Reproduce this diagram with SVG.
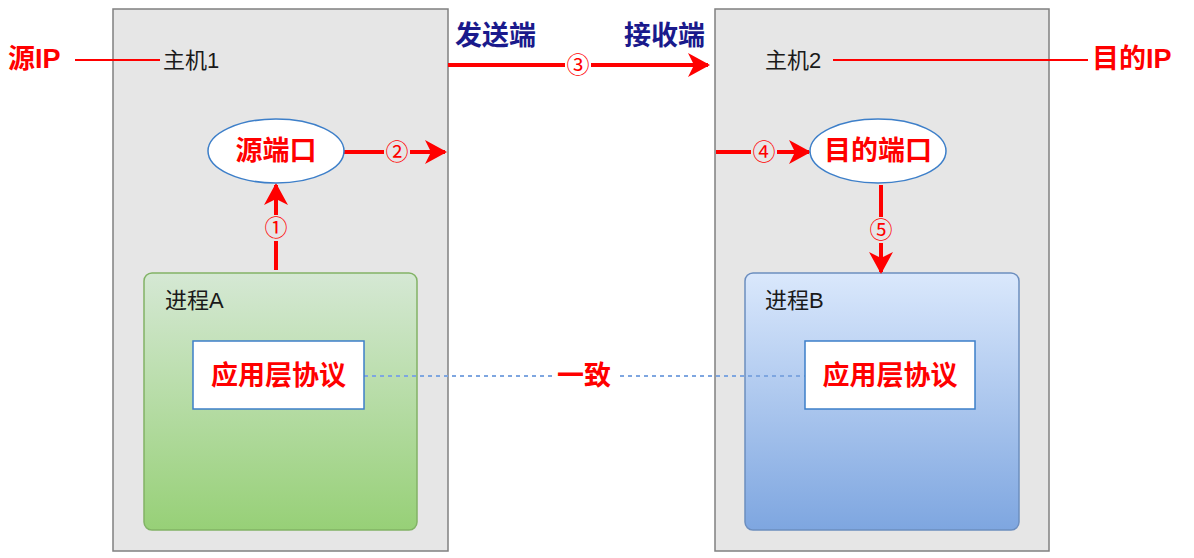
<svg xmlns="http://www.w3.org/2000/svg" width="1194" height="558" viewBox="0 0 1194 558">
<style>
.host{fill:#e6e6e6;stroke:#808080;stroke-width:1.5}
.t{font-family:"Liberation Sans","Noto Sans CJK SC",sans-serif}
.red{fill:#ff0000;font-weight:bold;font-size:27px}
.navy{fill:#1a1a8c;font-weight:bold;font-size:27px}
.blk{fill:#1a1a1a;font-size:22px}
.num{fill:#ff0000;font-size:23px;font-family:"Noto Sans CJK SC",sans-serif}
.arr{stroke:#ff0000;stroke-width:4;fill:none;marker-end:url(#ah)}
.ipl{stroke:#ff0000;stroke-width:2}
.app{fill:#ffffff;stroke:#3d7fc9;stroke-width:1.5}
.port{fill:#ffffff;stroke:#3d7fc9;stroke-width:1.5}
</style>
<defs>
<marker id="ah" viewBox="0 0 22 24" refX="20" refY="12" markerWidth="22" markerHeight="24" markerUnits="userSpaceOnUse" orient="auto">
<path d="M0,0 L22,12 L0,24 L6,12 z" fill="#ff0000"/>
</marker>
<linearGradient id="gG" x1="0" y1="0" x2="0" y2="1">
<stop offset="0" stop-color="#d5e8d4"/>
<stop offset="1" stop-color="#97d077"/>
</linearGradient>
<linearGradient id="gB" x1="0" y1="0" x2="0" y2="1">
<stop offset="0" stop-color="#dae8fc"/>
<stop offset="1" stop-color="#7ea6e0"/>
</linearGradient>
</defs>
<g id="host1">
<rect class="host" x="113" y="9" width="335" height="542"/>
<text class="t blk" x="163" y="68">主机1</text>
</g>
<g id="host2">
<rect class="host" x="715" y="9" width="334" height="542"/>
<text class="t blk" x="765" y="68">主机2</text>
</g>
<g id="processA">
<rect x="144" y="273" width="273" height="257" rx="8" fill="url(#gG)" stroke="#82b366" stroke-width="1.5"/>
<text class="t blk" x="165" y="308">进程A</text>
</g>
<g id="processB">
<rect x="745" y="273" width="274" height="257" rx="8" fill="url(#gB)" stroke="#6c8ebf" stroke-width="1.5"/>
<text class="t blk" x="765" y="308">进程B</text>
</g>
<g id="connectors">
<line class="ipl" x1="75" y1="60" x2="160" y2="60"/>
<line class="ipl" x1="833" y1="60" x2="1088" y2="60"/>
<line x1="364" y1="376" x2="805" y2="376" stroke="#7ea6e0" stroke-width="2" stroke-dasharray="4 4"/>
<rect x="552" y="362" width="64" height="28" fill="#ffffff"/>
<text class="t red" x="584" y="385" text-anchor="middle">一致</text>
<line class="arr" x1="276" y1="270" x2="276" y2="185"/>
<rect x="263" y="215" width="26" height="26" fill="#e6e6e6"/>
<text class="num" x="276" y="236" text-anchor="middle">①</text>
<line class="arr" x1="344" y1="152" x2="445" y2="152"/>
<rect x="384" y="139" width="26" height="26" fill="#e6e6e6"/>
<text class="num" x="397" y="160" text-anchor="middle">②</text>
<line class="arr" x1="448" y1="65" x2="708" y2="65"/>
<rect x="565" y="52" width="26" height="26" fill="#ffffff"/>
<text class="num" x="578" y="73" text-anchor="middle">③</text>
<line class="arr" x1="716" y1="152" x2="809" y2="152"/>
<rect x="751" y="139" width="26" height="26" fill="#e6e6e6"/>
<text class="num" x="764" y="160" text-anchor="middle">④</text>
<line class="arr" x1="881" y1="185" x2="881" y2="272"/>
<rect x="868" y="217" width="26" height="26" fill="#e6e6e6"/>
<text class="num" x="881" y="238" text-anchor="middle">⑤</text>
</g>
<g id="srcIP"><text class="t red" x="8" y="68">源IP</text></g>
<g id="dstIP"><text class="t red" x="1092" y="68">目的IP</text></g>
<g id="sender"><text class="t navy" x="455" y="45">发送端</text></g>
<g id="receiver"><text class="t navy" x="624" y="45">接收端</text></g>
<g id="srcPort">
<ellipse class="port" cx="276" cy="151" rx="68" ry="32"/>
<text class="t red" x="276" y="160" text-anchor="middle">源端口</text>
</g>
<g id="dstPort">
<ellipse class="port" cx="878" cy="151" rx="68" ry="32"/>
<text class="t red" x="878" y="160" text-anchor="middle">目的端口</text>
</g>
<g id="appA">
<rect class="app" x="193" y="341" width="171" height="68"/>
<text class="t red" x="278.5" y="385" text-anchor="middle">应用层协议</text>
</g>
<g id="appB">
<rect class="app" x="805" y="341" width="170" height="68"/>
<text class="t red" x="890" y="385" text-anchor="middle">应用层协议</text>
</g>
</svg>
